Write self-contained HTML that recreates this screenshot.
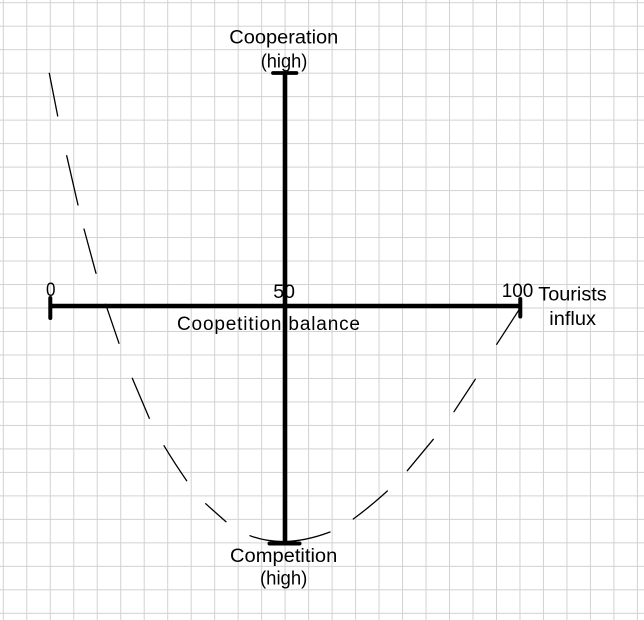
<!DOCTYPE html>
<html>
<head>
<meta charset="utf-8">
<style>
html,body{margin:0;padding:0;background:#fff;}
svg{display:block;}
text{font-family:"Liberation Sans",Arial,sans-serif;font-size:19px;fill:#000;}
</style>
</head>
<body>
<svg width="644" height="620" viewBox="0 0 644 620" xmlns="http://www.w3.org/2000/svg">
<defs>
<pattern id="grid" patternUnits="userSpaceOnUse" x="2.8" y="2.2" width="23.485" height="23.485">
<path d="M0.5 0 V23.485 M0 0.5 H23.485" stroke="#d2d2d2" stroke-width="1" fill="none"/>
</pattern>
</defs>
<rect width="644" height="620" fill="#fff"/>
<rect width="644" height="620" fill="url(#grid)"/>

<g stroke="#000" stroke-width="1.3" fill="none" stroke-linecap="round">
<path d="M49.3 73.3 L57.7 116"/>
<path d="M66.7 155.7 L78 205"/>
<path d="M84 229 L96 273.3"/>
<path d="M105.7 304.3 L119 343.3"/>
<path d="M132.3 378.3 L149.3 418.3"/>
<path d="M164 445.7 Q175 464 186.7 480.7"/>
<path d="M205.7 503.7 Q216 513 226 521.7"/>
<path d="M250 535.7 Q285 549 330 532"/>
<path d="M353.3 519 Q371 506 387.3 491"/>
<path d="M407.3 470.7 L433.3 439.3"/>
<path d="M454 411.7 L475.3 379.3"/>
<path d="M496.7 344.3 L520 308.3"/>
</g>

<text x="229.3" y="43.3" textLength="109" lengthAdjust="spacingAndGlyphs">Cooperation</text>
<text x="260.7" y="67.7" textLength="46.6" lengthAdjust="spacingAndGlyphs">(high)</text>
<text x="46" y="296" textLength="9.5" lengthAdjust="spacingAndGlyphs">0</text>
<text x="273.3" y="298" textLength="21.7" lengthAdjust="spacingAndGlyphs">50</text>
<text x="501.7" y="297" textLength="31.6" lengthAdjust="spacingAndGlyphs">100</text>
<text x="538.3" y="300.7" textLength="68.4" lengthAdjust="spacingAndGlyphs">Tourists</text>
<text x="549.3" y="325" textLength="46.7" lengthAdjust="spacingAndGlyphs">influx</text>
<text x="177" y="330" textLength="183" lengthAdjust="spacing">Coopetition balance</text>
<text x="230" y="562" textLength="107.3" lengthAdjust="spacingAndGlyphs">Competition</text>
<text x="260" y="584.5" textLength="47.3" lengthAdjust="spacingAndGlyphs">(high)</text>

<g stroke="#000" fill="none">
<path d="M49.5 306 H520" stroke-width="4.6"/>
<path d="M285 73 V543.5" stroke-width="4.6"/>
<path d="M50.3 298 V318" stroke-width="4" stroke-linecap="round"/>
<path d="M520.3 299 V316.5" stroke-width="4" stroke-linecap="round"/>
<path d="M273 73 H296.5" stroke-width="3.8" stroke-linecap="round"/>
<path d="M269.5 543.5 H299.5" stroke-width="4" stroke-linecap="round"/>
</g>
</svg>
</body>
</html>
